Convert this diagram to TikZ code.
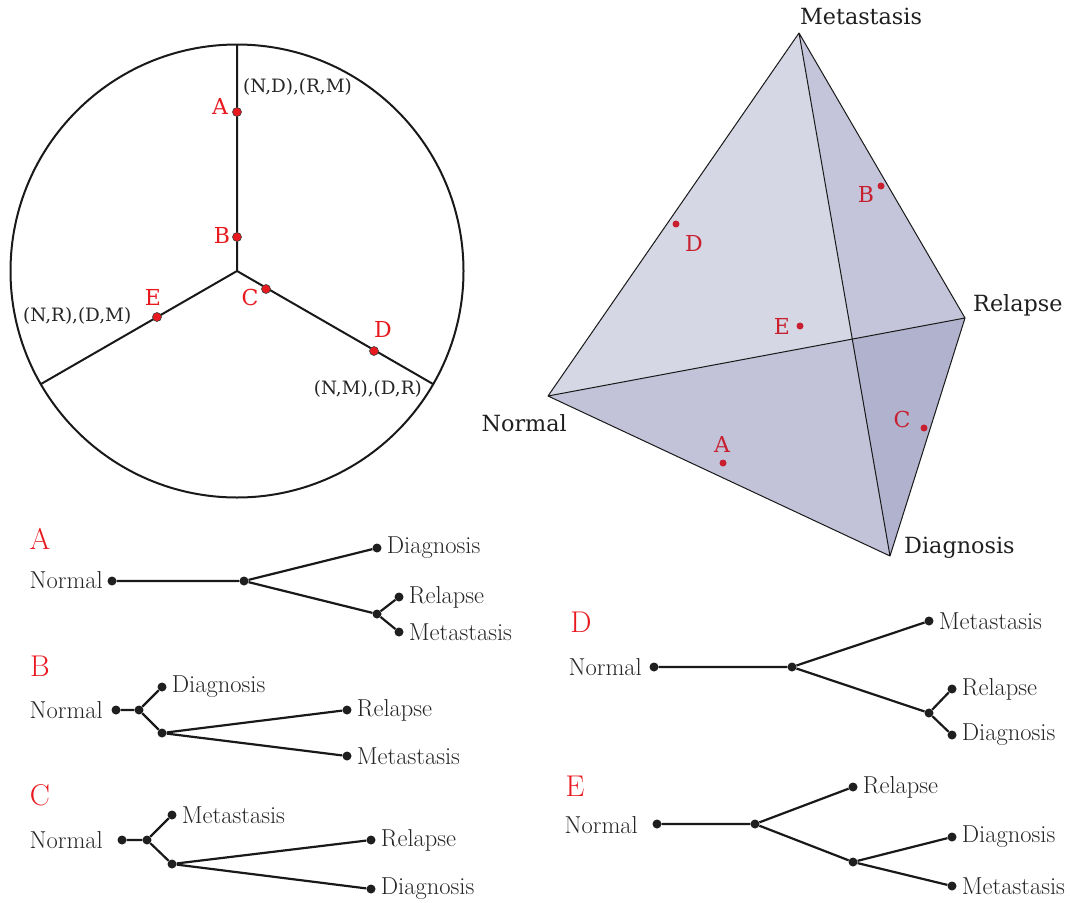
\documentclass[tikz,border=0pt]{standalone}
\usepackage{fontspec}
\newfontfamily\dvs{DejaVu Serif}
\usetikzlibrary{calc}
\definecolor{cred}{HTML}{E8191F}
\definecolor{tred}{HTML}{C8202F}
\definecolor{fa}{HTML}{D6D7E5}
\definecolor{fb}{HTML}{C4C5DA}
\definecolor{fc}{HTML}{C2C3D9}
\definecolor{fd}{HTML}{B1B2CE}
\definecolor{tgray}{HTML}{262626}
\tikzset{
  tdot/.style={circle,fill=black!88,inner sep=0pt,minimum size=9pt},
  tlab/.style={text=tgray,font=\fontsize{24.5}{24.5}\selectfont,inner sep=2pt},
  ttitle/.style={text=cred,font=\fontsize{30}{30}\selectfont,inner sep=0pt},
  tedge/.style={line width=2.2pt,black!90},
  cdot/.style={circle,fill=cred,draw=black!75,line width=0.6pt,inner sep=0pt,minimum size=9pt},
  clet/.style={text=cred,font=\dvs\fontsize{22}{22}\selectfont,inner sep=0pt},
  ctxt/.style={text=black!85,font=\dvs\fontsize{18.4}{18.4}\selectfont,inner sep=0pt},
  pdot/.style={circle,fill=tred,inner sep=0pt,minimum size=7pt},
  plet/.style={text=tred,font=\dvs\fontsize{22}{22}\selectfont,inner sep=0pt},
  vtxt/.style={text=black!88,font=\dvs\fontsize{22.3}{22.3}\selectfont,inner sep=0pt},
  every label/.style={label distance=3pt},
}
\begin{document}
\begin{tikzpicture}[x=1pt,y=-1pt]
\useasboundingbox (0,0) rectangle (1070,902);
% ---------------- circle diagram ----------------
\coordinate (O) at (237,271);
\coordinate (Ctop) at (237,45);
\coordinate (Cleft) at (41,384);
\coordinate (Cright) at (433,384);
\draw[line width=2pt,black!90] (O) circle (226.5);
\draw[line width=2pt,black!90] (Ctop) -- (O) -- (Cleft) (O) -- (Cright);
\node[cdot] (cA) at (237,112) {};
\node[cdot] (cB) at (237,237) {};
\node[cdot] (cC) at (266,289) {};
\node[cdot] (cE) at (157,317) {};
\node[cdot] (cD) at (374,351) {};
\node[clet] (lA) at (220,106) {A};
\node[clet] (lB) at (222,235) {B};
\node[clet] (lC) at (250,297) {C};
\node[clet] (lE) at (153,297) {E};
\node[clet] (lD) at (383,329) {D};
\node[ctxt,anchor=west] (t1) at (243,87) {(N,D),(R,M)};
\node[ctxt,anchor=west] (t2) at (23,316) {(N,R),(D,M)};
\node[ctxt,anchor=east] (t3) at (422,389) {(N,M),(D,R)};
% ---------------- tetrahedron ----------------
\coordinate (N) at (548,396);
\coordinate (M) at (799,33);
\coordinate (R) at (965,318);
\coordinate (D) at (890,556);
\coordinate (X) at (intersection of N--R and M--D);
\fill[fa] (N) -- (M) -- (X) -- cycle;
\fill[fb] (M) -- (R) -- (X) -- cycle;
\fill[fc] (N) -- (X) -- (D) -- cycle;
\fill[fd] (X) -- (R) -- (D) -- cycle;
\draw[line width=1pt,black!90,line join=round] (N) -- (M) -- (R) -- (D) -- cycle (M) -- (D) (N) -- (R);
\node[vtxt] (vM) at (861,16) {Metastasis};
\node[vtxt,anchor=west] (vR) at (973,305) {Relapse};
\node[vtxt,anchor=east] (vN) at (567,423) {Normal};
\node[vtxt,anchor=west] (vD) at (904,548) {Diagnosis};
\node[pdot] (pD) at (676,224) {};
\node[pdot] (pB) at (881,186) {};
\node[pdot] (pE) at (800,326) {};
\node[pdot] (pC) at (924,428) {};
\node[pdot] (pA) at (723,463) {};
\node[plet] (qD) at (694,243) {D};
\node[plet] (qB) at (866,194) {B};
\node[plet] (qE) at (782,326) {E};
\node[plet] (qC) at (902,419) {C};
\node[plet] (qA) at (722,444) {A};
% ---------------- tree A ----------------
\node[ttitle] (TA) at (40,539) {A};
\node[tlab,anchor=east] (nA) at (105,580) {Normal};
\node[tdot] (a0) at (112,581) {};
\node[tdot] (a1) at (244,581) {};
\node[tdot,label={[tlab]right:Diagnosis}] (a2) at (377,548) {};
\node[tdot] (a3) at (377,614) {};
\node[tdot,label={[tlab]right:Relapse}] (a4) at (399,597) {};
\node[tdot,label={[tlab]right:Metastasis}] (a5) at (399,632) {};
\draw[tedge] (a0) -- (a1) -- (a2) (a1) -- (a3) -- (a4) (a3) -- (a5);
% ---------------- tree B ----------------
\node[ttitle] (TB) at (40,666) {B};
\node[tlab,anchor=east] (nB) at (105,710) {Normal};
\node[tdot] (b0) at (116,710) {};
\node[tdot] (b1) at (139,710) {};
\node[tdot,label={[tlab]right:Diagnosis}] (b2) at (162,687) {};
\node[tdot] (b3) at (162,733) {};
\node[tdot,label={[tlab]right:Relapse}] (b4) at (347,710) {};
\node[tdot,label={[tlab]right:Metastasis}] (b5) at (347,756) {};
\draw[tedge] (b0) -- (b1) -- (b2) (b1) -- (b3) -- (b4) (b3) -- (b5);
% ---------------- tree C ----------------
\node[ttitle] (TC) at (40,795) {C};
\node[tlab,anchor=east] (nC) at (105,840) {Normal};
\node[tdot] (c0) at (122,840) {};
\node[tdot] (c1) at (147,840) {};
\node[tdot,label={[tlab]right:Metastasis}] (c2) at (172,815) {};
\node[tdot] (c3) at (172,864) {};
\node[tdot,label={[tlab]right:Relapse}] (c4) at (371,840) {};
\node[tdot,label={[tlab]right:Diagnosis}] (c5) at (371,889) {};
\draw[tedge] (c0) -- (c1) -- (c2) (c1) -- (c3) -- (c4) (c3) -- (c5);
% ---------------- tree D ----------------
\node[ttitle] (TD) at (581,622) {D};
\node[tlab,anchor=east] (nD) at (644,667) {Normal};
\node[tdot] (d0) at (654,667) {};
\node[tdot] (d1) at (792,667) {};
\node[tdot,label={[tlab]right:Metastasis}] (d2) at (929,621) {};
\node[tdot] (d3) at (929,713) {};
\node[tdot,label={[tlab]right:Relapse}] (d4) at (952,689) {};
\node[tdot,label={[tlab]right:Diagnosis}] (d5) at (952,735) {};
\draw[tedge] (d0) -- (d1) -- (d2) (d1) -- (d3) -- (d4) (d3) -- (d5);
% ---------------- tree E ----------------
\node[ttitle] (TE) at (575,786) {E};
\node[tlab,anchor=east] (nE) at (640,825) {Normal};
\node[tdot] (e0) at (657,824) {};
\node[tdot] (e1) at (755,824) {};
\node[tdot,label={[tlab]right:Relapse}] (e2) at (853,787) {};
\node[tdot] (e3) at (853,862) {};
\node[tdot,label={[tlab]right:Diagnosis}] (e4) at (952,837) {};
\node[tdot,label={[tlab]right:Metastasis}] (e5) at (952,886) {};
\draw[tedge] (e0) -- (e1) -- (e2) (e1) -- (e3) -- (e4) (e3) -- (e5);
\end{tikzpicture}
\end{document}
